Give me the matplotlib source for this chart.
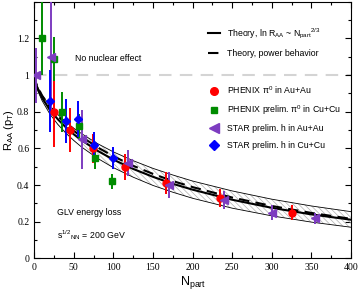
import matplotlib
matplotlib.use('Agg')
import matplotlib.pyplot as plt
from matplotlib.lines import Line2D
from matplotlib.ticker import MultipleLocator, FixedLocator

plt.rcParams['font.family'] = ['Liberation Sans', 'DejaVu Sans']
plt.rcParams['mathtext.default'] = 'regular'
plt.rcParams['hatch.linewidth'] = 0.5

# theory curves
n_th = [0, 2, 5, 10, 20, 30, 40, 50, 60, 80, 100, 125, 150, 175, 200, 250, 300, 350, 400]
r_solid = [1.0, 0.955, 0.920, 0.875, 0.809, 0.758, 0.715, 0.677, 0.644, 0.587, 0.539,
           0.488, 0.445, 0.407, 0.375, 0.320, 0.276, 0.240, 0.211]
r_dash = [1.0, 0.960, 0.930, 0.888, 0.826, 0.776, 0.734, 0.696, 0.663, 0.606, 0.557,
          0.505, 0.461, 0.422, 0.389, 0.332, 0.286, 0.248, 0.216]
r_up = [1.0, 0.961, 0.929, 0.890, 0.831, 0.784, 0.745, 0.710, 0.680, 0.626, 0.581,
        0.533, 0.491, 0.455, 0.422, 0.368, 0.323, 0.286, 0.255]
r_lo = [1.0, 0.950, 0.909, 0.860, 0.786, 0.730, 0.683, 0.643, 0.607, 0.546, 0.495,
        0.443, 0.398, 0.361, 0.328, 0.274, 0.232, 0.198, 0.170]

# data
phx_au_n = [25, 45, 74, 115, 167, 235, 325]
phx_au_r = [0.80, 0.70, 0.60, 0.50, 0.41, 0.33, 0.25]
phx_au_e = [0.19, 0.12, 0.08, 0.07, 0.06, 0.05, 0.04]

phx_cu_n = [10, 25, 35, 56, 77, 98]
phx_cu_r = [1.20, 1.09, 0.80, 0.72, 0.55, 0.42]
phx_cu_e = [0.20, 0.12, 0.11, 0.07, 0.06, 0.04]

star_au_n = [2, 21, 60, 118, 170, 240, 300, 355]
star_au_r = [1.00, 1.10, 0.65, 0.52, 0.40, 0.32, 0.25, 0.22]
star_au_e = [0.15, 0.30, 0.16, 0.07, 0.07, 0.05, 0.04, 0.03]

star_cu_n = [20, 40, 55, 76, 99]
star_cu_r = [0.86, 0.75, 0.76, 0.62, 0.55]
star_cu_e = [0.17, 0.12, 0.10, 0.07, 0.06]

fig = plt.figure(figsize=(3.6, 2.91), dpi=100)
ax = fig.add_axes([0.095, 0.112, 0.88, 0.882])

ax.axhline(1.0, color='#d4d4d4', lw=1.5, dashes=(6, 4), zorder=1)

ax.fill_between(n_th, r_lo, r_up, facecolor='none', edgecolor='#b0b0b0',
                hatch='\\\\\\\\\\\\', lw=0, zorder=2)
ax.plot(n_th, r_up, color='k', lw=0.6, zorder=3)
ax.plot(n_th, r_lo, color='k', lw=0.6, zorder=3)
ax.plot(n_th, r_solid, color='k', lw=1.5, zorder=3)
ax.plot(n_th, r_dash, color='k', lw=1.5, dashes=(5, 3), zorder=3)

series = [
    (phx_au_n, phx_au_r, phx_au_e, 'o', 5, '#ff0000'),
    (phx_cu_n, phx_cu_r, phx_cu_e, 's', 4.5, '#008c00'),
    (star_au_n, star_au_r, star_au_e, '<', 6, '#7d3cc0'),
    (star_cu_n, star_cu_r, star_cu_e, 'D', 4.5, '#0000ff'),
]
for n, r, e, mk, ms, c in series:
    ax.errorbar(n, r, yerr=e, fmt=mk, ms=ms, color=c, mec=c, elinewidth=1.4,
                capsize=0, zorder=4)

ax.set_xlim(0, 400)
ax.set_ylim(0, 1.4)
ax.xaxis.set_major_locator(MultipleLocator(50))
ax.xaxis.set_minor_locator(MultipleLocator(25))
ax.yaxis.set_major_locator(FixedLocator([0, 0.2, 0.4, 0.6, 0.8, 1.0, 1.2]))
ax.yaxis.set_minor_locator(MultipleLocator(0.1))
ax.set_yticklabels(['0', '0.2', '0.4', '0.6', '0.8', '1', '1.2'])
ax.tick_params(which='both', direction='in', top=True, right=True, width=0.8)
ax.tick_params(which='major', length=4)
ax.tick_params(which='minor', length=2)
for lab in ax.get_xticklabels() + ax.get_yticklabels():
    lab.set_family('Liberation Serif')
    lab.set_fontsize(7)

ax.set_xlabel('N$_{part}$', fontsize=9, labelpad=1)
ax.set_ylabel('R$_{AA}$ (p$_{T}$)', fontsize=8, labelpad=1)

ax.text(51, 1.093, 'No nuclear effect', fontsize=6.3, va='center')
ax.text(28.5, 0.253, 'GLV energy loss', fontsize=6.3, va='center')
ax.text(28.5, 0.125, 's$^{1/2}$$_{NN}$ = 200 GeV', fontsize=6.3, va='center')

th_handles = [Line2D([], [], color='k', lw=1.5),
              Line2D([], [], color='k', lw=1.5, dashes=(5, 3))]
th_labels = ['Theory, ln R$_{AA}$ ~ N$_{part}$$^{2/3}$', 'Theory, power behavior']
leg1 = ax.legend(th_handles, th_labels, loc='upper left', bbox_to_anchor=(0.549, 0.905),
                 frameon=False, fontsize=6.3, handlelength=1.4, handletextpad=0.8,
                 labelspacing=1.0, borderpad=0, borderaxespad=0)
ax.add_artist(leg1)

dat_handles = [Line2D([], [], ls='none', marker=mk, ms=ms + 0.5, color=c)
               for _, _, _, mk, ms, c in series]
dat_labels = [r'PHENIX $\pi^0$ in Au+Au', r'PHENIX prelim. $\pi^0$ in Cu+Cu',
              'STAR prelim. h in Au+Au', 'STAR prelim. h in Cu+Cu']
ax.legend(dat_handles, dat_labels, loc='upper left', bbox_to_anchor=(0.549, 0.68),
          frameon=False, fontsize=6.3, handlelength=1.4, handletextpad=0.8,
          labelspacing=0.85, borderpad=0, borderaxespad=0)

fig.savefig('out.png', dpi=100)
